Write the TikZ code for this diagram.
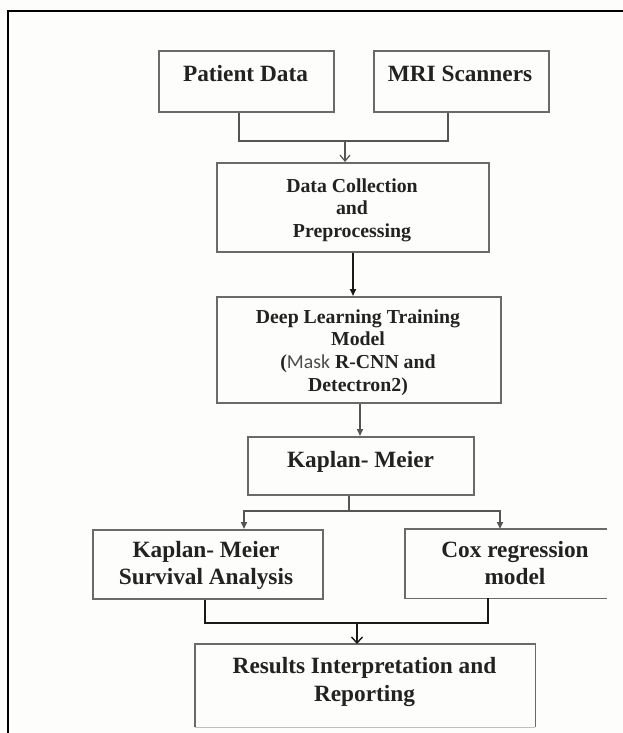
\documentclass[tikz,border=0pt]{standalone}
\usepackage{fontspec}
\setmainfont{Liberation Serif}
\newfontfamily\maskfont{Carlito}
\usetikzlibrary{arrows.meta,calc}
\definecolor{boxc}{HTML}{6A6A6A}
\definecolor{txtc}{HTML}{222222}
\definecolor{linec}{HTML}{555555}
\definecolor{bgc}{HTML}{FDFDFB}
\tikzset{
  boxnode/.style={draw=boxc, line width=1.7pt, inner sep=0pt, anchor=north west},
  openbox/.style={draw=none, inner sep=0pt, anchor=north west},
  boxline/.style={draw=boxc, line width=1.7pt},
  bigtxt/.style={inner sep=0pt, anchor=base, text=txtc, font=\fontsize{23.3}{27.5}\selectfont\bfseries},
  smalltxt/.style={inner sep=0pt, anchor=base, text=txtc, font=\fontsize{19.8}{22.7}\selectfont\bfseries},
  thinconn/.style={draw=linec, line width=1.5pt},
  midconn/.style={draw=linec, line width=1.8pt},
  thickconn/.style={draw=black!90, line width=2.2pt},
  tri/.style={-{Triangle[length=7pt,width=6pt]}},
  barb/.style={-{Straight Barb[length=6pt,width=11pt,line width=1.4pt]}}
}
\begin{document}
\begin{tikzpicture}[x=1pt,y=-1pt]
\useasboundingbox (0,0) rectangle (623,733);
\fill[bgc] (0,0) rectangle (623,733);
% frame
\coordinate (frTR) at (623,11);
\coordinate (frTL) at (8,11);
\coordinate (frBL) at (8,733);
\draw[black, line width=1.8pt] (frTR) -- (frTL) -- (frBL);

% boxes
\node[boxnode, minimum width=175pt, minimum height=61pt] (pd) at (158,50) {};
\node[boxnode, minimum width=175pt, minimum height=61pt] (mri) at (373,50) {};
\node[boxnode, minimum width=272pt, minimum height=89pt] (dc) at (216,162) {};
\node[boxnode, minimum width=284pt, minimum height=106pt] (dl) at (216,296) {};
\node[boxnode, minimum width=226pt, minimum height=58pt] (km) at (247,436) {};
\node[boxnode, minimum width=230pt, minimum height=69pt] (kms) at (92,529) {};
\node[openbox, minimum width=220pt, minimum height=69pt] (cox) at (405,529) {};
\node[openbox, minimum width=340pt, minimum height=83pt] (res) at (195,644) {};
\draw[boxline] ($(cox.north west)+(202,0)$) -- (cox.north west) -- (cox.south west) -- ++(202,0);
\draw[boxline] (res.south west) -- (res.north west) -- (res.north east) -- (res.south east);
\draw[black!25, line width=1.2pt] (res.south west) -- (res.south east);

% texts
\node[bigtxt] (pdt) at (245.5,82) {Patient Data};
\node[bigtxt] (mrit) at (460,82) {MRI Scanners};
\node[smalltxt] (dct) at (352,192) {\begin{tabular}[t]{@{}c@{}}Data Collection\\and\\Preprocessing\end{tabular}};
\node[smalltxt] (dlt) at (358,323) {\begin{tabular}[t]{@{}c@{}}Deep Learning Training\\Model\\({\maskfont\mdseries\color{black!70}Mask} R-CNN and\\Detectron2)\end{tabular}};
\node[bigtxt] (kmt) at (360.5,467) {Kaplan- Meier};
\node[bigtxt] (kmst) at (206,557) {\begin{tabular}[t]{@{}c@{}}Kaplan- Meier\\Survival Analysis\end{tabular}};
\node[bigtxt] (coxt) at (515,557) {\begin{tabular}[t]{@{}c@{}}Cox regression\\model\end{tabular}};
\node[bigtxt] (rest) at (364.5,673) {\fontsize{23.3}{28}\selectfont\begin{tabular}[t]{@{}c@{}}Results Interpretation and\\Reporting\end{tabular}};

% connectors
\coordinate (j1) at (345,141);
\draw[thinconn] (pd.south west) ++(81,0) |- (j1) -| ($(mri.south west)+(75,0)$);
\draw[thinconn, -{Straight Barb[length=6pt,width=10pt,line width=1.2pt]}] (j1) -- (j1 |- dc.north);
\draw[thickconn, tri] ($(dc.south west)+(137,0)$) -- ($(dl.north west)+(137,0)$);
\draw[thinconn, tri] ($(dl.south west)+(144,0)$) -- ($(km.north west)+(113,0)$);
\coordinate (j2) at (349,511);
\draw[midconn] ($(km.south west)+(102,0)$) -- (j2);
\draw[midconn, tri] (j2) -| ($(kms.north west)+(152,0)$);
\draw[midconn, tri] (j2) -| ($(cox.north west)+(95,0)$);
\coordinate (j3) at (357,623);
\draw[thickconn] (kms.south west) ++(113,0) |- (j3) -| ($(cox.south west)+(83,0)$);
\draw[thickconn, barb] (j3) -- (j3 |- res.north);
\end{tikzpicture}
\end{document}
